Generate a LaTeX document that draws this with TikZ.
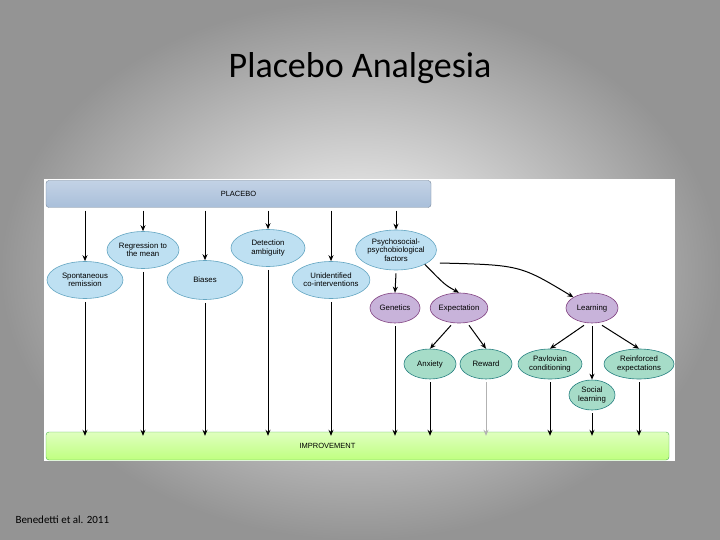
\documentclass[tikz,border=0pt]{standalone}
\usepackage{fontspec}
\setmainfont{Carlito}
\newfontfamily\sansf{Liberation Sans}
\usetikzlibrary{shapes.geometric,arrows.meta,shadings}
\definecolor{pbar}{HTML}{A9BFDA}
\definecolor{bfill}{HTML}{BEE0F2}
\definecolor{pfill}{HTML}{C8B3DA}
\definecolor{gfill}{HTML}{A6DCC8}
\begin{document}
\begin{tikzpicture}[x=1pt,y=-1pt,
 ell/.style={ellipse,draw=#1,line width=0.6pt,inner sep=0pt,align=center,font=\sansf\fontsize{7.8}{8.3}\selectfont},
 blu/.style={ell=cyan!50!gray,fill=bfill,minimum width=76,minimum height=37},
 pur/.style={ell=violet!50!gray,fill=pfill,minimum width=52,minimum height=30},
 grn/.style={ell=teal!70!gray,fill=gfill,minimum width=54,minimum height=30},
 arr/.style={-{Stealth[length=6pt,width=5pt]},line width=1pt}]
\useasboundingbox (0,0) rectangle (720,540);
\shade[inner color=white,outer color=black!42] (0,0) rectangle (720,540);
\node[font=\fontsize{36}{40}\selectfont] (title) at (360,68) {Placebo Analgesia};
\node[font=\fontsize{11}{12}\selectfont,anchor=west] (cite) at (12,520) {Benedetti et al. 2011};
\fill[white] (44,179) rectangle (675,461);
\node[draw=pbar!70!black,top color=pbar!70!white,bottom color=pbar,rounded corners=3pt,minimum width=385,minimum height=27,font=\sansf\fontsize{7.5}{7.5}\selectfont] (placebo) at (238.5,194) {PLACEBO};
\node[draw=green!40!gray,top color=green!50!yellow!25!white,bottom color=green!50!yellow!50!white,rounded corners=3pt,minimum width=623,minimum height=28,font=\sansf\fontsize{7.5}{7.5}\selectfont] (impr) at (357.5,446) {\hspace*{-60pt}IMPROVEMENT};
\node[blu] (sr) at (85,280) {Spontaneous\\remission};
\node[blu,minimum width=72] (rm) at (143,250) {Regression to\\the mean};
\node[blu,minimum height=39] (bi) at (205,280) {Biases};
\node[blu,minimum width=74] (da) at (268,248) {Detection\\ambiguity};
\node[blu,minimum width=74] (uc) at (331,280) {Unidentified\\co-interventions};
\node[blu,minimum height=40] (ps) at (396,250) {Psychosocial-\\psychobiological\\factors};
\node[pur,minimum width=50] (ge) at (395,308) {Genetics};
\node[pur] (ex) at (459,308) {Expectation};
\node[pur] (le) at (592,308) {Learning};
\node[grn,minimum width=52] (an) at (430,364) {Anxiety};
\node[grn,minimum width=52] (re) at (486,364) {Reward};
\node[grn,minimum width=64] (pa) at (550,364) {Pavlovian\\conditioning};
\node[grn,minimum width=46] (so) at (592,395) {Social\\learning};
\node[grn,minimum width=70] (rf) at (639,364) {Reinforced\\expectations};
\foreach \n in {sr,rm,bi,da,uc,ps}{\draw[arr] (\n|-placebo.south) ++(0,3) -- (\n.north);}
\foreach \n in {sr,rm,bi,da,uc,ge,an,pa,so,rf}{\draw[arr] (\n.south) ++(0,3) -- ([yshift=-4]\n|-impr.north);}
\draw[arr,black!30] (re.south) ++(0,3) -- ([yshift=-4]re|-impr.north);
\draw[arr] (ps.south) ++(0,3) -- (ge.north);
\draw[arr] (ps.south east) .. controls (445,285) .. (ex.north);
\draw[arr] (ps.east) ++(3,13) .. controls (520,265) .. (le.north west);
\draw[arr] (ex.south) ++(-8,2) -- (an.north);
\draw[arr] (ex.south) ++(10,2) -- (re.north);
\draw[arr] (le.south) ++(-8,2) -- (pa.north);
\draw[arr] (le.south) ++(0,3) -- (so.north);
\draw[arr] (le.south) ++(10,2) -- (rf.north);
\end{tikzpicture}
\end{document}
